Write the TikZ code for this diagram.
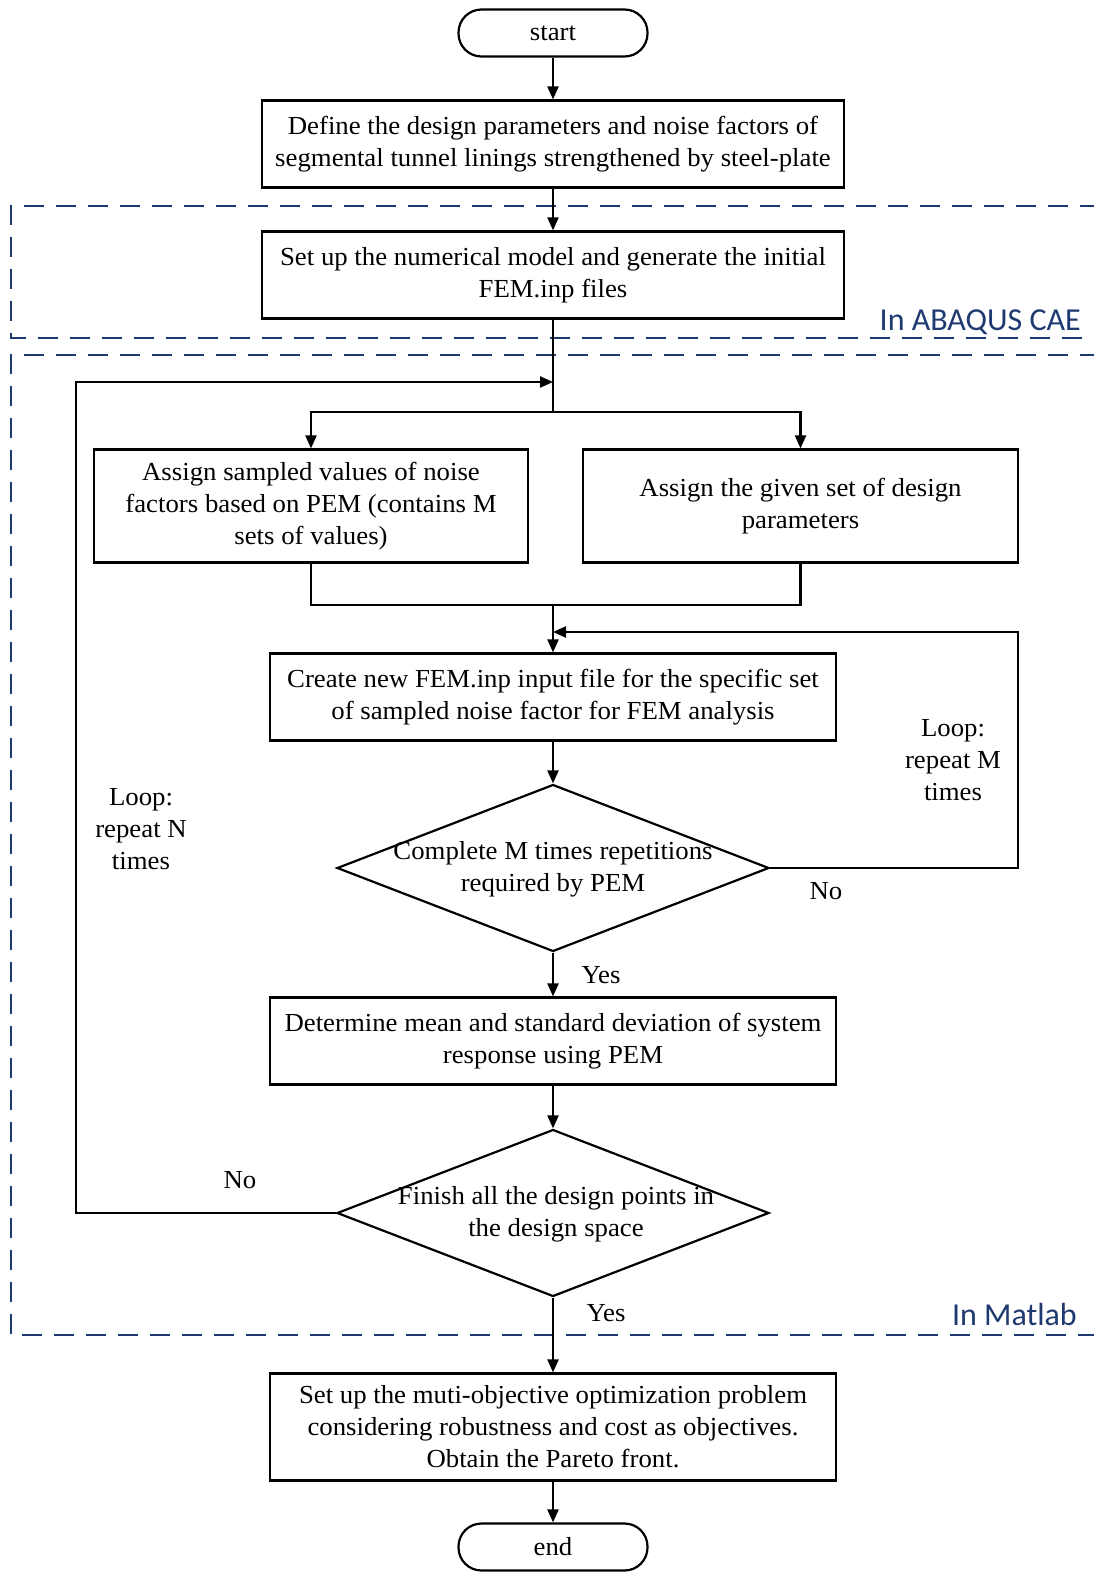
\documentclass[tikz,border=0pt]{standalone}
\usepackage{fontspec}
\setmainfont[FakeStretch=1.03]{Liberation Serif}
\newfontfamily\labfont{Carlito}
\usetikzlibrary{arrows.meta,shapes.geometric}
\definecolor{dblue}{HTML}{1F3A70}
\begin{document}
\begin{tikzpicture}[x=1pt,y=-1pt,
  every node/.style={font=\fontsize{26}{32}\selectfont, align=center, inner sep=0pt},
  box/.style={draw, line width=2.2pt, rectangle},
  term/.style={draw, line width=2.2pt, rectangle, rounded corners=23pt, minimum width=189pt, minimum height=47pt},
  dia/.style={draw, line width=2.2pt, diamond, minimum width=432pt, minimum height=167pt},
  arr/.style={line width=2.2pt, -{Triangle[length=13pt,width=11pt]}},
  ln/.style={line width=2.2pt},
  dsh/.style={draw=dblue, line width=2.6pt, dash pattern=on 20pt off 12pt},
  lab/.style={font=\labfont\fontsize{32}{34}\selectfont, text=dblue}]
\useasboundingbox (0,0) rectangle (1093,1573);
% dashed regions
\draw[dsh] (1100,206) -- (11,206) -- (11,338) -- (1100,338);
\draw[dsh] (1100,355) -- (11,355) -- (11,1335) -- (1100,1335);
\node[lab, anchor=base east] (abq) at (1081,330) {In ABAQUS CAE};
\node[lab, anchor=base east] (mat) at (1077,1325) {In Matlab};
% nodes
\node[term] (start) at (553,33) {start};
\node[box, minimum width=582pt, minimum height=87pt] (b1) at (553,144) {Define the design parameters and noise factors of\\segmental tunnel linings strengthened by steel-plate};
\node[box, minimum width=582pt, minimum height=87pt] (b2) at (553,275) {Set up the numerical model and generate the initial\\FEM.inp files};
\node[box, minimum width=434pt, minimum height=113pt] (b3) at (311,506) {Assign sampled values of noise\\factors based on PEM (contains M\\sets of values)};
\node[box, minimum width=435pt, minimum height=113pt] (b4) at (800.5,506) {Assign the given set of design\\parameters};
\node[box, minimum width=566pt, minimum height=87pt] (b5) at (553,697) {Create new FEM.inp input file for the specific set\\of sampled noise factor for FEM analysis};
\node[dia] (d1) at (553,868) {};
\node (d1t) at (553,869) {Complete M times repetitions\\required by PEM};
\node[box, minimum width=566pt, minimum height=87pt] (b6) at (553,1041) {Determine mean and standard deviation of system\\response using PEM};
\node[dia] (d2) at (553,1213) {};
\node (d2t) at (556,1214) {Finish all the design points in\\the design space};
\node[box, minimum width=566pt, minimum height=107pt] (b7) at (553,1427) {Set up the muti-objective optimization problem\\considering robustness and cost as objectives.\\Obtain the Pareto front.};
\node[term] (end) at (553,1547) {end};
% labels
\node (loopn) at (141,829) {Loop:\\repeat N\\times};
\node (loopm) at (953,760) {Loop:\\repeat M\\times};
\node (yes1) at (601,975) {Yes};
\node (no1) at (826,891) {No};
\node (no2) at (240,1180) {No};
\node (yes2) at (606,1313) {Yes};
% coordinates
\coordinate (jn) at (553,382);
\coordinate (split) at (553,412);
\coordinate (merge) at (553,605);
\coordinate (jm) at (553,632);
% connectors
\draw[arr] (start) -- (b1);
\draw[arr] (b1) -- (b2);
\draw[ln] (b2) -- (split);
\draw[arr] (split) -| (b3.north);
\draw[arr] (split) -| (b4.north);
\draw[ln] (b3.south) |- (merge);
\draw[ln] (b4.south) |- (merge);
\draw[arr] (merge) -- (b5);
\draw[arr] (b5) -- (d1);
\draw[arr] (d1.east) -- (1018,868) |- (jm);
\draw[arr] (d1) -- (b6);
\draw[arr] (b6) -- (d2);
\draw[arr] (d2.west) -- (76,1213) |- (jn);
\draw[arr] (d2) -- (b7);
\draw[arr] (b7) -- (end);
\end{tikzpicture}
\end{document}
